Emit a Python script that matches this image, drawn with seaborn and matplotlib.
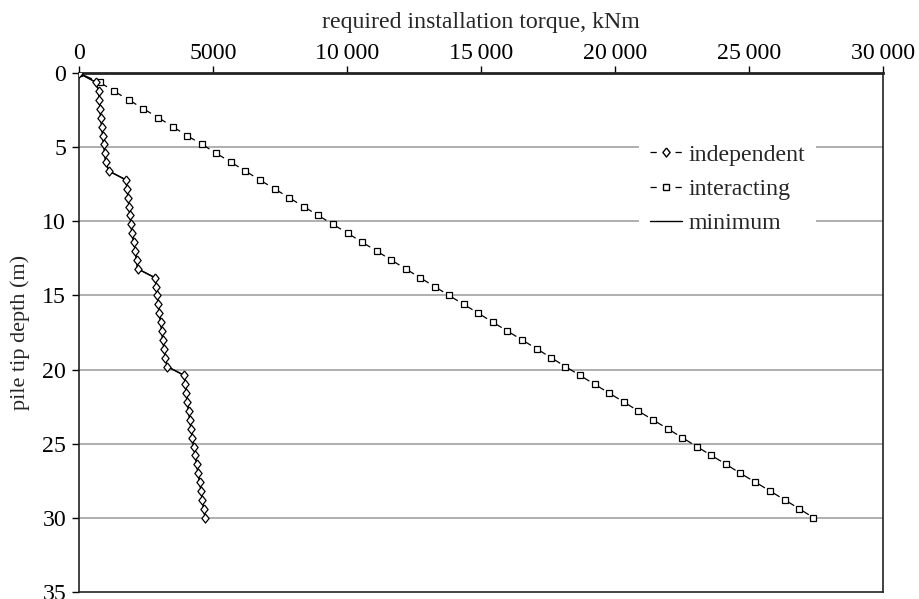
import matplotlib
matplotlib.use("Agg")
import numpy as np
import pandas as pd
import seaborn as sns
import matplotlib.pyplot as plt
from matplotlib.lines import Line2D

depth = [0.0, 0.6, 1.2, 1.8, 2.4, 3.0, 3.6, 4.2, 4.8, 5.4, 6.0, 6.6, 7.2, 7.8, 8.4, 9.0,
         9.6, 10.2, 10.8, 11.4, 12.0, 12.6, 13.2, 13.8, 14.4, 15.0, 15.6, 16.2, 16.8,
         17.4, 18.0, 18.6, 19.2, 19.8, 20.4, 21.0, 21.6, 22.2, 22.8, 23.4, 24.0, 24.6,
         25.2, 25.8, 26.4, 27.0, 27.6, 28.2, 28.8, 29.4, 30.0]

independent = [0, 612, 724, 746, 772, 799, 836, 873, 910, 948, 985, 1108,
               1743, 1780, 1817, 1855, 1892, 1929, 1966, 2030, 2090, 2135, 2175,
               2825, 2873, 2899, 2948, 2985, 3037, 3075, 3112, 3160, 3209, 3284,
               3918, 3955, 3993, 4030, 4082, 4119, 4168, 4216, 4269, 4328, 4381,
               4429, 4493, 4541, 4590, 4642, 4690]

interacting = [0, 755, 1290, 1850, 2395, 2948, 3485, 4010, 4580, 5110, 5655, 6200,
               6730, 7291, 7825, 8373, 8918, 9466, 10015, 10548, 11097, 11631, 12179,
               12713, 13261, 13795, 14343, 14888, 15425, 15970, 16519, 17067, 17601,
               18140, 18683, 19231, 19776, 20325, 20858, 21407, 21955, 22500, 23037,
               23586, 24134, 24657, 25224, 25772, 26321, 26866, 27388]

minimum = list(np.minimum(independent, interacting))

x_ticks = [0, 5000, 10000, 15000, 20000, 25000, 30000]
x_tick_labels = ["0", "5000", "10\u2009000", "15\u2009000", "20\u2009000", "25\u2009000", "30\u2009000"]
y_ticks = [0, 5, 10, 15, 20, 25, 30, 35]

sns.set_style("white")
plt.rcParams["font.family"] = ["Liberation Serif", "DejaVu Serif"]

FS = 17.2
fig = plt.figure(figsize=(9.19, 5.99), dpi=100)
ax = fig.add_axes([79.3 / 919, 1 - 591.7 / 599, (883.3 - 79.3) / 919, (591.7 - 73.3) / 599])

df = pd.DataFrame({"depth": depth, "independent": independent,
                   "interacting": interacting, "minimum": minimum})

for yv in y_ticks[1:-1]:
    ax.axhline(yv, color="#9a9a9a", lw=1.1, zorder=0)

diamond = [(0, 1), (0.8, 0), (0, -1), (-0.8, 0), (0, 1)]

sns.lineplot(data=df, x="interacting", y="depth", sort=False, ax=ax, color="black",
             lw=0.9, marker="s", markersize=4.7, markerfacecolor="white",
             markeredgecolor="black", markeredgewidth=0.9, zorder=3)
ax.lines[-1].set_linestyle((9.7, (7.0, 6.7)))
sns.lineplot(data=df, x="independent", y="depth", sort=False, ax=ax, color="black",
             lw=0.9, marker=diamond, markersize=6.5, markerfacecolor="white",
             markeredgecolor="black", markeredgewidth=0.9, zorder=3)
sns.lineplot(data=df, x="minimum", y="depth", sort=False, ax=ax, color="black",
             lw=1.0, zorder=2)

ax.set_xlim(0, 30000)
ax.set_ylim(35, 0)
ax.xaxis.tick_top()
ax.xaxis.set_label_position("top")
ax.set_xticks(x_ticks)
ax.set_xticklabels(x_tick_labels)
ax.set_yticks(y_ticks)
ax.tick_params(axis="both", direction="out", length=5, width=1, labelsize=FS,
               colors="black")
ax.tick_params(axis="x", top=True, bottom=False, pad=1.5)
ax.tick_params(axis="y", left=True, pad=4.5)
ax.set_xlabel("required installation torque, kNm", fontsize=FS, labelpad=10.8)
ax.set_ylabel("pile tip depth (m)", fontsize=16, labelpad=9)

for side in ["left", "right", "bottom"]:
    ax.spines[side].set_visible(True)
    ax.spines[side].set_color("#222222")
    ax.spines[side].set_linewidth(1.2)
ax.spines["top"].set_visible(True)
ax.spines["top"].set_color("#222222")
ax.spines["top"].set_linewidth(2.0)

handles = [
    Line2D([], [], color="black", lw=0.9, ls=(0, (5, 5)), marker=diamond, markersize=6.5,
           markerfacecolor="white", markeredgecolor="black"),
    Line2D([], [], color="black", lw=0.9, ls=(0, (5, 5)), marker="s", markersize=4.7,
           markerfacecolor="white", markeredgecolor="black"),
    Line2D([], [], color="black", lw=1.0),
]
leg = ax.legend(handles, ["independent", "interacting", "minimum"], loc="center left",
                bbox_to_anchor=(0.696, 0.7768), frameon=True, fontsize=FS,
                handlelength=1.34, handletextpad=0.3, labelspacing=0.52,
                borderpad=0.45, borderaxespad=0)
leg.get_frame().set_facecolor("white")
leg.get_frame().set_edgecolor("none")
leg.get_frame().set_alpha(1)
leg.set_zorder(5)

fig.savefig("out.png", dpi=100)
